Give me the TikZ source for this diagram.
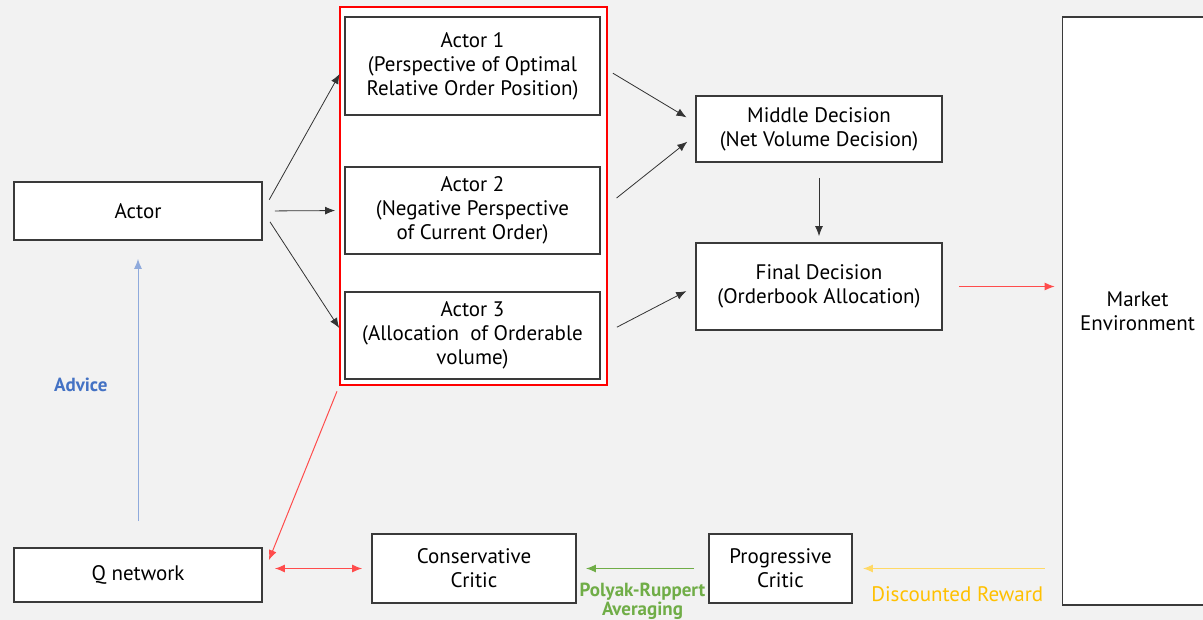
\documentclass[tikz,border=0pt]{standalone}
\usepackage{fontspec}
\setmainfont{PT Sans}
\usepackage{xcolor}
\usepackage{tikz}
\usetikzlibrary{arrows.meta}
\usetikzlibrary{calc}

\definecolor{bgray}{HTML}{F2F2F2}
\definecolor{edgegray}{HTML}{3A3A3A}
\definecolor{advblue}{HTML}{4472C4}
\definecolor{avggreen}{HTML}{70AD47}
\definecolor{rewyellow}{HTML}{FFC000}
\definecolor{linkred}{HTML}{FF0000}

\tikzset{
  blk/.style={draw=edgegray, line width=0.9pt, fill=white, inner sep=0pt,
    align=center, font=\fontsize{10.5}{12}\selectfont},
  flow/.style={-{Latex[length=5pt,width=4pt]}, black!80, line width=0.4pt},
  redflow/.style={-{Latex[length=5pt,width=4pt]}, linkred!70, line width=0.5pt},
  lbl/.style={font=\fontsize{9.5}{9.5}\selectfont\bfseries, align=center, inner sep=1pt}
}

\begin{document}
\begin{tikzpicture}[x=0.5pt, y=-0.5pt]
    % Fond
    \fill[bgray] (0,0) rectangle (1203,620);
    \useasboundingbox (0,0) rectangle (1203,620);

    % Groupe des acteurs
    \node[draw=linkred, line width=0.8pt, fill=white, minimum width=133.5pt, minimum height=189pt] (group) at (473.5,196) {};

    % Blocs
    \node[blk, minimum width=124pt, minimum height=29pt] (actor) at (138,211) {Actor};
    \node[blk, minimum width=127.5pt, minimum height=49pt] (actorone) at (472.5,66)
        {Actor 1\\(Perspective of Optimal\\Relative Order Position)};
    \node[blk, minimum width=127.5pt, minimum height=43.5pt] (actortwo) at (472.5,210.5)
        {Actor 2\\(Negative Perspective\\of Current Order)};
    \node[blk, minimum width=127.5pt, minimum height=43.5pt] (actorthree) at (472.5,335.5)
        {Actor 3\\(Allocation\ \ of Orderable\\volume)};
    \node[blk, minimum width=123pt, minimum height=33pt] (middle) at (819,129)
        {Middle Decision\\(Net Volume Decision)};
    \node[blk, minimum width=123pt, minimum height=43.5pt] (final) at (819,286.5)
        {Final Decision\\(Orderbook Allocation)};
    \node[blk, minimum width=75pt, minimum height=294pt] (market) at (1137.5,311)
        {Market\\Environment};
    \node[blk, minimum width=124pt, minimum height=27pt] (qnet) at (138,575) {Q network};
    \node[blk, minimum width=102pt, minimum height=34.5pt] (conservative) at (474,568.5)
        {Conservative\\Critic};
    \node[blk, minimum width=71.5pt, minimum height=34.5pt] (progressive) at (780.5,568.5)
        {Progressive\\Critic};

    % Fleches vers les acteurs
    \draw[flow, shorten <=6.5pt, shorten >=4.5pt] (actor.east) -- (actorone.west);
    \draw[flow, shorten <=6pt, shorten >=4.5pt] (actor.east) -- (actortwo.west);
    \draw[flow, shorten <=6.5pt, shorten >=4.5pt] (actor.east) -- (actorthree.west);

    % Fleches vers les decisions
    \draw[flow, shorten <=7pt, shorten >=5pt] (actorone.east) -- (middle.177);
    \draw[flow, shorten <=10pt, shorten >=5pt] (actortwo.east) -- (middle.183);
    \draw[flow, shorten <=9pt, shorten >=5pt] (actorthree.east) -- (final.west);
    \draw[flow, shorten <=7.5pt, shorten >=3pt] (middle.south) -- (final.north);
    \draw[redflow, shorten <=8pt, shorten >=3.5pt] (final.east) -- (final.east -| market.west);

    % Conseil
    \draw[-{Latex[length=5pt,width=4pt]}, advblue!60, line width=0.5pt, shorten <=13pt, shorten >=9pt]
        (qnet.north) -- (actor.south) node[pos=0.53, left=14pt, lbl, text=advblue] (advice) {Advice};

    % Critiques
    \draw[redflow, shorten <=3pt, shorten >=8pt] (group.south west) -- (qnet.east);
    \draw[{Latex[length=5pt,width=4pt]}-{Latex[length=5pt,width=4pt]}, linkred!70, line width=0.5pt,
        shorten <=6pt, shorten >=4.5pt] (conservative.west -| qnet.east) -- (conservative.west);
    \draw[-{Latex[length=5pt,width=4pt]}, avggreen, line width=0.6pt, shorten <=7pt, shorten >=4.5pt]
        (progressive.west) -- (conservative.east)
        node[midway, below=6pt, lbl, text=avggreen] (polyak) {Polyak-Ruppert\\Averaging};
    \draw[-{Latex[length=5pt,width=4pt]}, rewyellow!60, line width=0.6pt, shorten <=8.5pt, shorten >=5pt]
        (progressive.east -| market.west) -- (progressive.east)
        node[midway, below=8pt, lbl, font=\fontsize{10.5}{10.5}\selectfont, text=rewyellow] (reward)
        {Discounted Reward};
\end{tikzpicture}
\end{document}
